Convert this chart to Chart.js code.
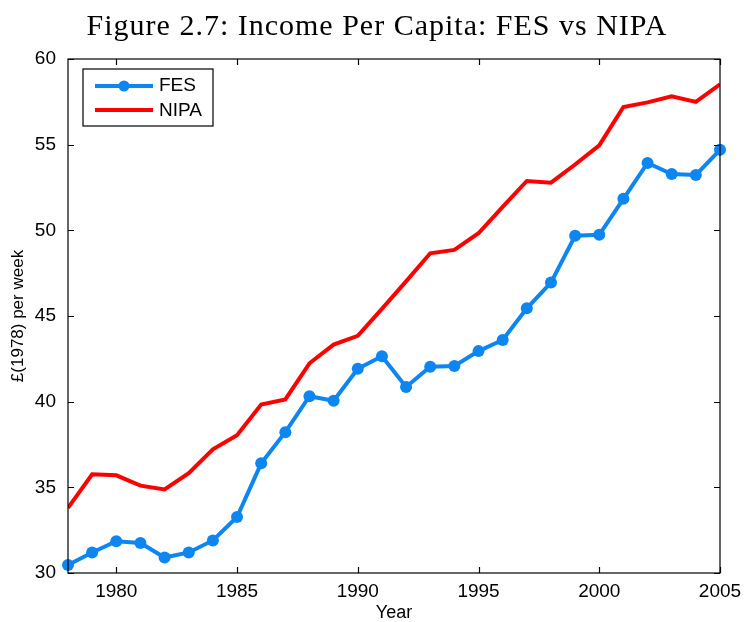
<!DOCTYPE html>
<html>
<head>
<meta charset="utf-8">
<script src="https://cdn.jsdelivr.net/npm/chart.js@4.4.1/dist/chart.umd.min.js"></script>
<style>
  html, body { margin: 0; padding: 0; background: #fff; }
  #wrap { width: 744px; height: 622px; }
</style>
</head>
<body>
<div id="wrap"><canvas id="chart" width="744" height="622"></canvas></div>
<script>
// Data
const years = [1978, 1979, 1980, 1981, 1982, 1983, 1984, 1985, 1986, 1987, 1988, 1989, 1990, 1991,
               1992, 1993, 1994, 1995, 1996, 1997, 1998, 1999, 2000, 2001, 2002, 2003, 2004, 2005];
const fesValues = [30.47, 31.2, 31.85, 31.75, 30.9, 31.2, 31.9, 33.27, 36.4, 38.22, 40.32, 40.05, 41.92, 42.65,
                   40.86, 42.04, 42.08, 42.95, 43.6, 45.45, 46.95, 49.68, 49.74, 51.84, 53.93, 53.29, 53.23, 54.7];
const nipaValues = [33.8, 35.76, 35.7, 35.1, 34.88, 35.82, 37.22, 38.04, 39.83, 40.13, 42.24, 43.33, 43.84, 45.42,
                    47.02, 48.66, 48.86, 49.83, 51.37, 52.88, 52.78, 53.84, 54.96, 57.2, 57.47, 57.82, 57.5, 58.52];
const xTicks = [1980, 1985, 1990, 1995, 2000, 2005];
const yTicks = [30, 35, 40, 45, 50, 55, 60];

const blue = '#0D86F2';
const red = '#FF0000';

// Title, frame, inward ticks and the in-plot legend
const decorations = {
    id: 'decorations',
    afterDraw(chart) {
        const ctx = chart.ctx;
        const a = chart.chartArea;
        const xs = chart.scales.x;
        const ys = chart.scales.y;
        ctx.save();

        ctx.fillStyle = '#000';
        ctx.font = '30px "Liberation Serif", "DejaVu Serif", serif';
        ctx.letterSpacing = '1px';
        ctx.textAlign = 'center';
        ctx.textBaseline = 'alphabetic';
        ctx.fillText('Figure 2.7: Income Per Capita: FES vs NIPA', 377, 35);
        ctx.letterSpacing = '0px';

        ctx.strokeStyle = '#000';
        ctx.lineWidth = 1.2;
        ctx.strokeRect(a.left, a.top, a.right - a.left, a.bottom - a.top);

        const tl = 6;
        ctx.beginPath();
        xTicks.forEach(function(v) {
            const px = Math.round(xs.getPixelForValue(v)) + 0.5;
            ctx.moveTo(px, a.bottom); ctx.lineTo(px, a.bottom - tl);
            ctx.moveTo(px, a.top); ctx.lineTo(px, a.top + tl);
        });
        yTicks.forEach(function(v) {
            const py = Math.round(ys.getPixelForValue(v)) + 0.5;
            ctx.moveTo(a.left, py); ctx.lineTo(a.left + tl, py);
            ctx.moveTo(a.right, py); ctx.lineTo(a.right - tl, py);
        });
        ctx.stroke();

        // legend box
        const bx = a.left + 15, by = a.top + 10, bw = 130, bh = 57;
        ctx.fillStyle = '#fff';
        ctx.fillRect(bx, by, bw, bh);
        ctx.lineWidth = 1.2;
        ctx.strokeRect(bx, by, bw, bh);

        ctx.lineWidth = 4;
        ctx.strokeStyle = blue;
        ctx.beginPath(); ctx.moveTo(bx + 12, by + 17); ctx.lineTo(bx + 70, by + 17); ctx.stroke();
        ctx.fillStyle = blue;
        ctx.beginPath(); ctx.arc(bx + 41, by + 17, 5.5, 0, Math.PI * 2); ctx.fill();
        ctx.strokeStyle = red;
        ctx.beginPath(); ctx.moveTo(bx + 12, by + 41); ctx.lineTo(bx + 70, by + 41); ctx.stroke();

        ctx.fillStyle = '#000';
        ctx.font = '19px "Liberation Sans", Arial, sans-serif';
        ctx.textAlign = 'left';
        ctx.textBaseline = 'middle';
        ctx.fillText('FES', bx + 76, by + 17);
        ctx.fillText('NIPA', bx + 76, by + 42);
        ctx.restore();
    }
};

const ctx = document.getElementById('chart').getContext('2d');
new Chart(ctx, {
    type: 'line',
    data: {
        labels: years,
        datasets: [{
            label: 'FES',
            data: years.map(function(y, i) { return { x: y, y: fesValues[i] }; }),
            borderColor: blue,
            backgroundColor: blue,
            borderWidth: 4,
            pointRadius: 6,
            pointBackgroundColor: blue,
            pointBorderWidth: 0,
            tension: 0,
            clip: false
        }, {
            label: 'NIPA',
            data: years.map(function(y, i) { return { x: y, y: nipaValues[i] }; }),
            borderColor: red,
            backgroundColor: red,
            borderWidth: 4,
            pointRadius: 0,
            tension: 0
        }]
    },
    options: {
        responsive: false,
        animation: false,
        layout: { padding: { top: 59, right: 24, left: 0, bottom: 0 } },
        plugins: {
            legend: { display: false },
            title: { display: false },
            tooltip: { enabled: false }
        },
        scales: {
            x: {
                type: 'linear',
                min: 1978,
                max: 2005,
                afterBuildTicks: function(scale) {
                    scale.ticks = xTicks.map(function(v) { return { value: v }; });
                },
                afterFit: function(scale) { scale.height = 49; },
                grid: { display: false },
                border: { display: false },
                ticks: {
                    color: '#000',
                    padding: -1,
                    maxRotation: 0,
                    font: { family: '"Liberation Sans", Arial, sans-serif', size: 19 },
                    callback: function(v) { return String(v); }
                },
                title: {
                    display: true,
                    text: 'Year',
                    color: '#000',
                    padding: { top: 0, bottom: 0 },
                    font: { family: '"Liberation Sans", Arial, sans-serif', size: 18, lineHeight: 1 }
                }
            },
            y: {
                min: 30,
                max: 60,
                afterBuildTicks: function(scale) {
                    scale.ticks = yTicks.map(function(v) { return { value: v }; });
                },
                afterFit: function(scale) { scale.width = 68; },
                grid: { display: false },
                border: { display: false },
                ticks: {
                    color: '#000',
                    padding: 4,
                    font: { family: '"Liberation Sans", Arial, sans-serif', size: 19 }
                },
                title: {
                    display: true,
                    text: '£(1978) per week',
                    color: '#000',
                    padding: { top: 8, bottom: 2 },
                    font: { family: '"Liberation Sans", Arial, sans-serif', size: 17 }
                }
            }
        }
    },
    plugins: [decorations]
});
</script>
</body>
</html>
